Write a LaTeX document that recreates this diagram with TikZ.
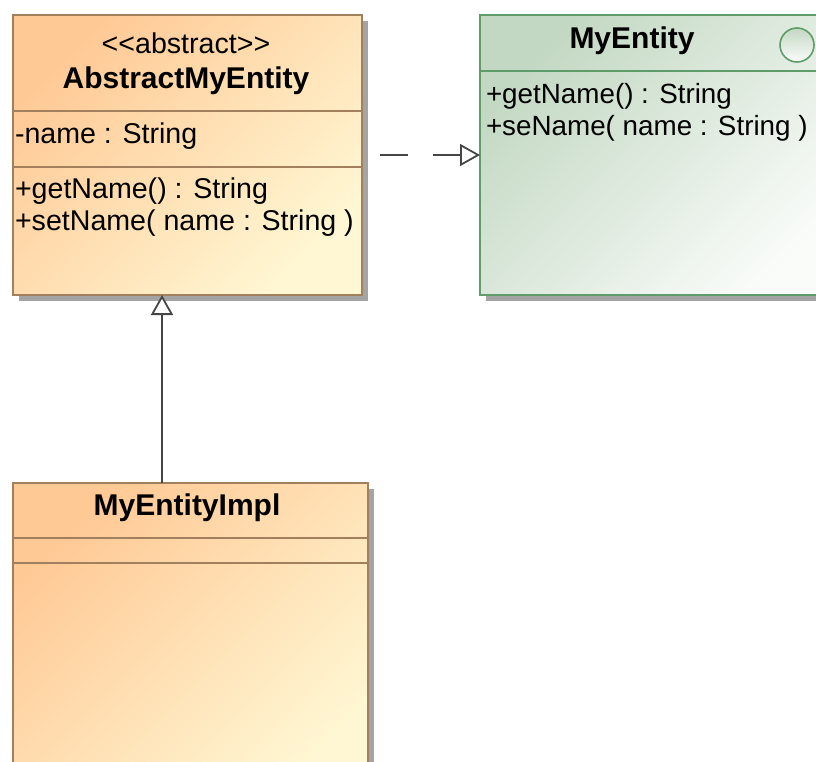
\documentclass[tikz,border=0pt]{standalone}
\usepackage{fontspec}
\setmainfont{Liberation Sans}
\usetikzlibrary{arrows.meta}

\definecolor{orangeA}{HTML}{FFC995}
\definecolor{orangeB}{HTML}{FFF7D3}
\definecolor{orangeLine}{HTML}{A2805E}
\definecolor{greenA}{HTML}{C3D8C3}
\definecolor{greenB}{HTML}{FAFCFA}
\definecolor{greenLine}{HTML}{5E9C6A}
\definecolor{shadowGray}{HTML}{A4A4A4}
\definecolor{linkGray}{HTML}{454545}

\tikzset{
  x=1pt, y=-1pt,
  every node/.style={inner sep=0pt, outer sep=0pt, font=\fontsize{28.6}{33}\selectfont, text=black},
  classbox/.style={draw=#1, line width=1.6pt, anchor=north west},
  orangefill/.style={top color=orangeA, bottom color=orangeB, shading angle=45},
  greenfill/.style={top color=greenA, bottom color=greenB, shading angle=45},
  boxshadow/.style={fill=shadowGray, draw=none},
  title/.style={font=\fontsize{30}{35}\selectfont\bfseries},
  member/.style={anchor=west},
  narrowmember/.style={anchor=west, font=\fontsize{27.8}{33}\selectfont},
  link/.style={draw=linkGray, line width=1.8pt},
  opentip/.style={-{Triangle[open, length=20pt, width=22pt, fill=white]}},
}

\begin{document}
\begin{tikzpicture}
\useasboundingbox (0,0) rectangle (816,761);
\clip (0,0) rectangle (816,761);

% drop shadows
\fill[boxshadow] (19,21) rectangle (368,301);
\fill[boxshadow] (486,21) rectangle (860,301);
\fill[boxshadow] (19,489) rectangle (374,800);

% AbstractMyEntity
\node[classbox=orangeLine, orangefill, minimum width=349pt, minimum height=280pt] (abs) at (13,15) {};
\draw[orangeLine, line width=1.6pt] (13,111) -- (362,111);
\draw[orangeLine, line width=1.6pt] (13,167) -- (362,167);
\node (absStereo) at (186,43) {<{}<abstract>{}>};
\node[title] (absName) at (186,81) {AbstractMyEntity};
\node[member] (absAttr) at (15,136) {-name : String};
\node[member] (absOp1) at (15,191) {+getName() : String};
\node[member] (absOp2) at (15,223) {+setName( name : String )};

% MyEntity interface
\node[classbox=greenLine, greenfill, minimum width=370pt, minimum height=280pt] (ent) at (480,15) {};
\draw[greenLine, line width=1.6pt] (480,71) -- (850,71);
\node[title] (entName) at (632,41) {MyEntity};
\node[circle, draw=greenLine, line width=1.6pt, top color=greenA, bottom color=greenB, minimum size=34pt] (entIcon) at (797,45) {};
\node[narrowmember] (entOp1) at (486,96) {+getName() : String};
\node[narrowmember] (entOp2) at (486,128) {+seName( name : String )};

% MyEntityImpl
\node[classbox=orangeLine, orangefill, minimum width=355pt, minimum height=320pt] (impl) at (13,483) {};
\draw[orangeLine, line width=1.6pt] (13,538) -- (368,538);
\draw[orangeLine, line width=1.6pt] (13,563) -- (368,563);
\node[title] (implName) at (187,508) {MyEntityImpl};

% realization: AbstractMyEntity implements MyEntity
\coordinate (realStart) at ([xshift=18pt]abs.east);
\draw[link, opentip, dash pattern=on 28pt off 25pt] (realStart) -- (ent.west |- realStart);

% generalization: MyEntityImpl extends AbstractMyEntity
\coordinate (genX) at (162,0);
\draw[link, opentip] (genX |- impl.north) -- (genX |- abs.south);
\end{tikzpicture}
\end{document}
